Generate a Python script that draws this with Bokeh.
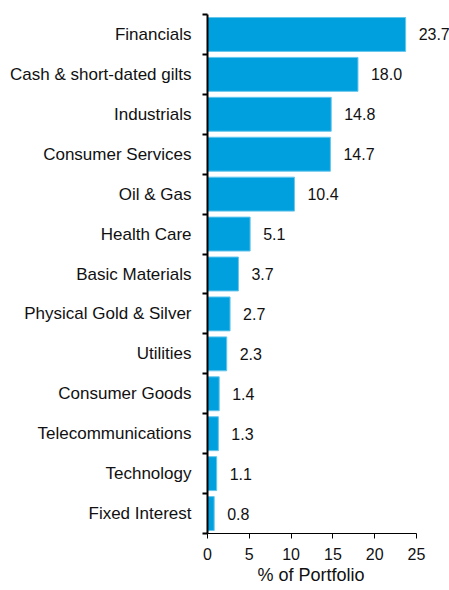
from bokeh.plotting import figure
from bokeh.models import ColumnDataSource, FixedTicker, LabelSet, Range1d, Title
from bokeh.core.properties import value
from bokeh.embed import file_html
from bokeh.resources import INLINE

categories = ["Financials", "Cash & short-dated gilts", "Industrials", "Consumer Services",
              "Oil & Gas", "Health Care", "Basic Materials", "Physical Gold & Silver",
              "Utilities", "Consumer Goods", "Telecommunications", "Technology", "Fixed Interest"]
values = [23.7, 18.0, 14.8, 14.7, 10.4, 5.1, 3.7, 2.7, 2.3, 1.4, 1.3, 1.1, 0.8]
x_ticks = [0, 5, 10, 15, 20, 25]
x_title = "% of Portfolio"

n = len(categories)
ypos = [n - i - 0.5 for i in range(n)]
src = ColumnDataSource(dict(y=ypos, v=values, lab=[f"{v:.1f}" for v in values]))

FONT = "Liberation Sans"
W, H = 449, 590
LEFT, TOP, BOTTOM = 207, 14, 533
PX_PER_UNIT = (416 - 207) / 25.0
x_end = 25 + (W - 416) / PX_PER_UNIT

p = figure(width=W, height=H, output_backend="svg", toolbar_location=None,
           x_range=Range1d(0, x_end), y_range=Range1d(0, n),
           min_border_left=LEFT, min_border_right=0, min_border_top=TOP,
           min_border_bottom=H - BOTTOM)
p.outline_line_color = None
p.grid.grid_line_color = None
p.background_fill_color = "white"

p.hbar(y="y", right="v", left=0, height=0.85, source=src,
       fill_color="#00A0DF", line_color="#66C6EC", line_width=1)

labels = LabelSet(x="v", y="y", text="lab", source=src, x_offset=13, y_offset=0,
                  text_baseline="middle", text_align="left",
                  text_font=value(FONT), text_font_size="16px", text_color="#111111")
p.add_layout(labels)

# y axis: labels at centers, minor ticks at boundaries
yax = p.yaxis[0]
yax.ticker = FixedTicker(ticks=ypos, minor_ticks=list(range(n + 1)))
yax.major_label_overrides = {y: c for y, c in zip(ypos, categories)}
yax.major_tick_line_color = None
yax.major_tick_out = 0
yax.minor_tick_out = 5
yax.minor_tick_in = 0
yax.minor_tick_line_color = "black"
yax.minor_tick_line_width = 2
yax.axis_line_width = 2
yax.axis_line_color = "black"
yax.major_label_text_font = FONT
yax.major_label_text_font_size = "17px"
yax.major_label_text_color = "#111111"
yax.major_label_standoff = 11

xax = p.xaxis[0]
xax.bounds = (0, 25)
xax.ticker = FixedTicker(ticks=x_ticks, minor_ticks=[])
xax.major_tick_out = 5
xax.major_tick_in = 0
xax.major_tick_line_color = "black"
xax.axis_line_color = "black"
xax.axis_line_width = 1
xax.major_label_text_font = FONT
xax.major_label_text_font_size = "16px"
xax.major_label_text_color = "#111111"
xax.major_label_standoff = 9

t = Title(text=x_title, align="left", offset=50, standoff=0,
          text_font=FONT, text_font_size="18px", text_font_style="normal",
          text_color="#111111")
p.add_layout(t, "below")

open("out.html", "w").write(file_html(p, INLINE))
